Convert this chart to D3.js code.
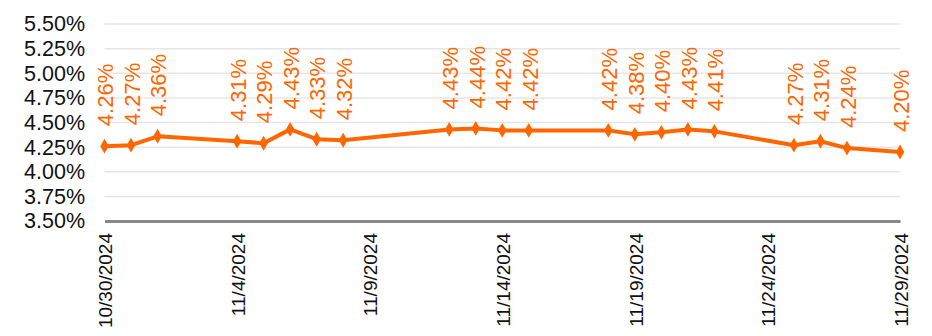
<!DOCTYPE html>
<html>
<head>
<meta charset="utf-8">
<script src="https://cdn.jsdelivr.net/npm/d3@7"></script>
<style>
  html, body { margin: 0; padding: 0; background: #fff; }
  svg { display: block; font-family: "Liberation Sans", Arial, sans-serif; }
</style>
</head>
<body>
<svg id="chart" width="932" height="336"></svg>
<script>
const dates = ["2024-10-30","2024-10-31","2024-11-01","2024-11-04","2024-11-05","2024-11-06","2024-11-07","2024-11-08",
  "2024-11-12","2024-11-13","2024-11-14","2024-11-15","2024-11-18","2024-11-19","2024-11-20","2024-11-21","2024-11-22",
  "2024-11-25","2024-11-26","2024-11-27","2024-11-29"];
const values = [4.26,4.27,4.36,4.31,4.29,4.43,4.33,4.32,4.43,4.44,4.42,4.42,4.42,4.38,4.40,4.43,4.41,4.27,4.31,4.24,4.20];
const xTickDates = ["2024-10-30","2024-11-04","2024-11-09","2024-11-14","2024-11-19","2024-11-24","2024-11-29"];
const yTicks = [3.50,3.75,4.00,4.25,4.50,4.75,5.00,5.25,5.50];

const parse = d3.timeParse("%Y-%m-%d");
const data = dates.map((d, i) => ({ date: parse(d), value: values[i] }));

const svg = d3.select("#chart");
const x = d3.scaleTime().domain([parse("2024-10-30"), parse("2024-11-29")]).range([104.5, 900]);
const y = d3.scaleLinear().domain([3.5, 5.5]).range([221, 24]);
const orange = "#FF6600";

// gridlines
svg.append("g")
  .selectAll("line")
  .data(yTicks.slice(1))
  .join("line")
  .attr("x1", x.range()[0]).attr("x2", x.range()[1])
  .attr("y1", d => y(d)).attr("y2", d => y(d))
  .attr("stroke", "#e6e6e6").attr("stroke-width", 1.5);

// y axis labels
const yAxis = d3.axisLeft(y).tickValues(yTicks).tickFormat(d => d.toFixed(2) + "%").tickSize(0).tickPadding(0);
const gy = svg.append("g").attr("transform", "translate(85,0)").call(yAxis);
gy.select(".domain").remove();
gy.selectAll("text").attr("font-size", 21.5).attr("fill", "#111").attr("font-family", "Liberation Sans, Arial, sans-serif");

// x axis
const fmt = d => (d.getMonth() + 1) + "/" + d.getDate() + "/" + d.getFullYear();
const xAxis = d3.axisBottom(x).tickValues(xTickDates.map(parse)).tickFormat(fmt).tickSize(0).tickPadding(0);
const gx = svg.append("g").attr("transform", "translate(0,221)").call(xAxis);
gx.select(".domain").attr("stroke", "#888").attr("stroke-width", 3);
gx.selectAll("text")
  .attr("font-size", 19).attr("fill", "#111").attr("font-family", "Liberation Sans, Arial, sans-serif")
  .attr("text-anchor", "end")
  .attr("transform", "translate(0,12) rotate(-90)")
  .attr("x", 0).attr("y", 0).attr("dy", "0.38em");

// line
const line = d3.line().x(d => x(d.date)).y(d => y(d.value));
svg.append("path").datum(data)
  .attr("d", line).attr("fill", "none").attr("stroke", orange).attr("stroke-width", 4).attr("stroke-linejoin", "round");

// markers
svg.append("g").selectAll("path")
  .data(data).join("path")
  .attr("d", d3.symbol().type(d3.symbolDiamond).size(64))
  .attr("transform", d => `translate(${x(d.date)},${y(d.value)})`)
  .attr("fill", orange);

// labels
svg.append("g").selectAll("text")
  .data(data).join("text")
  .attr("transform", d => `translate(${x(d.date)},${y(d.value) - 20}) rotate(-90)`)
  .attr("dy", "0.4em")
  .attr("text-anchor", "start")
  .attr("font-size", 22)
  .attr("fill", orange)
  .text(d => d.value.toFixed(2) + "%");
</script>
</body>
</html>
